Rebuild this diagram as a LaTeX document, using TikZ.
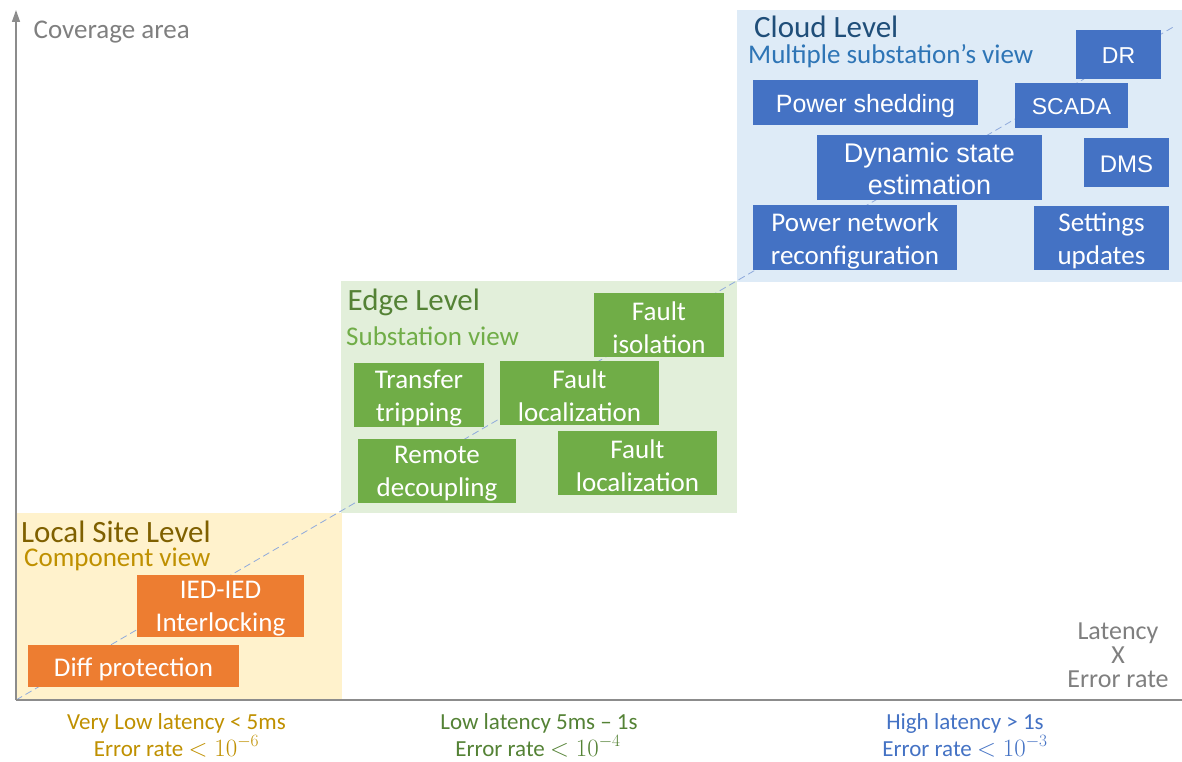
\documentclass[tikz,border=0pt]{standalone}
\usepackage{fontspec}
\setmainfont{Carlito}
\newfontfamily\arialf{Liberation Sans}
\usetikzlibrary{arrows.meta}
\definecolor{orangebox}{HTML}{ED7D31}
\definecolor{greenbox}{HTML}{70AD47}
\definecolor{bluebox}{HTML}{4472C4}
\definecolor{localbg}{HTML}{FFF2CC}
\definecolor{edgebg}{HTML}{E2EFDA}
\definecolor{cloudbg}{HTML}{DEEBF7}
\definecolor{localhead}{HTML}{7F6000}
\definecolor{localsub}{HTML}{BF9000}
\definecolor{edgehead}{HTML}{548235}
\definecolor{edgesub}{HTML}{70AD47}
\definecolor{cloudhead}{HTML}{1F4E79}
\definecolor{cloudsub}{HTML}{2E75B6}
\definecolor{axisgray}{HTML}{8C8C8C}
\definecolor{textgray}{HTML}{7F7F7F}
\definecolor{dashblue}{HTML}{8FAADC}
\newcommand{\fsz}[2]{\fontsize{#1pt}{#2pt}\selectfont}
\tikzset{
  region/.style={inner sep=0pt, outer sep=0pt, anchor=north west},
  taskbox/.style={inner sep=0pt, outer sep=0pt},
  obox/.style={taskbox, fill=orangebox},
  gbox/.style={taskbox, fill=greenbox},
  bbox/.style={taskbox, fill=bluebox},
  tasktext/.style={inner sep=0pt, text=white, align=center, font=\fsz{27}{33}},
  arialtext/.style={tasktext, font=\arialf\fsz{#1}{32}},
  head/.style={inner sep=0pt, anchor=base west, font=\fsz{31}{36}},
  sub/.style={inner sep=0pt, anchor=base west, font=\fsz{27}{32}},
  axisline/.style={draw=axisgray, line width=1.5pt},
  dashline/.style={draw=dashblue, line width=0.8pt, dash pattern=on 7pt off 4pt},
  botlabel/.style={inner sep=0pt, anchor=base, font=\fsz{23}{27}},
}
\begin{document}
\begin{tikzpicture}[x=1pt,y=-1pt]
\useasboundingbox (0,0) rectangle (1182,762);
% regions
\node[region, fill=localbg, minimum width=326pt, minimum height=187pt] (local) at (16,513) {};
\node[region, fill=edgebg, minimum width=396pt, minimum height=232pt] (edge) at (341,281) {};
\node[region, fill=cloudbg, minimum width=445pt, minimum height=272pt] (cloud) at (737,10) {};
% diagonal
\coordinate (O) at (16,700);
\coordinate (dtop) at (1175,26);
\draw[dashline] (O) -- (dtop);
% headings
\node[head, text=localhead] (lh) at (21,542.5) {Local Site Level};
\node[sub, text=localsub] (ls) at (24,566) {Component view};
\node[head, text=edgehead] (eh) at (347.5,310) {Edge Level};
\node[sub, text=edgesub] (es) at (346,345) {Substation view};
\node[head, text=cloudhead] (ch) at (754,38) {Cloud Level};
\node[sub, text=cloudsub] (cs) at (748,64) {Multiple substation's view};
% local boxes
\node[obox, minimum width=167pt, minimum height=62pt] (ied) at (220.5,606) {};
\node[tasktext] (iedt) at ([yshift=-3pt]ied.center) {IED-IED\\Interlocking};
\node[obox, minimum width=211pt, minimum height=42pt] (diff) at (133.5,666) {};
\node[tasktext] (difft) at ([yshift=-3pt]diff.center) {Diff protection};
% edge boxes
\node[gbox, minimum width=130pt, minimum height=64pt] (fiso) at (659,325) {};
\node[tasktext] (fisot) at ([yshift=-3pt]fiso.center) {Fault\\isolation};
\node[gbox, minimum width=130pt, minimum height=64pt] (ttrip) at (419,395) {};
\node[tasktext] (ttript) at ([yshift=-3pt]ttrip.center) {Transfer\\tripping};
\node[gbox, minimum width=159pt, minimum height=64pt] (floc1) at (579.5,393) {};
\node[tasktext] (floc1t) at ([yshift=-3pt]floc1.center) {Fault\\localization};
\node[gbox, minimum width=158pt, minimum height=64pt] (rdec) at (437,471) {};
\node[tasktext] (rdect) at ([yshift=-3pt]rdec.center) {Remote\\decoupling};
\node[gbox, minimum width=159pt, minimum height=64pt] (floc2) at (637.5,463) {};
\node[tasktext] (floc2t) at ([yshift=-3pt]floc2.center) {Fault\\localization};
% cloud boxes
\node[bbox, minimum width=85pt, minimum height=49pt] (dr) at (1118.5,54.5) {};
\node[arialtext=23] (drt) at ([yshift=-1.5pt]dr.center) {DR};
\node[bbox, minimum width=225pt, minimum height=45pt] (pshed) at (865.5,102.5) {};
\node[arialtext=25] (pshedt) at ([yshift=-3.5pt]pshed.center) {Power shedding};
\node[bbox, minimum width=113pt, minimum height=45pt] (scada) at (1071.5,105.5) {};
\node[arialtext=23] (scadat) at ([yshift=-1.5pt]scada.center) {SCADA};
\node[bbox, minimum width=225pt, minimum height=65pt] (dse) at (929.5,167.5) {};
\node[arialtext=27] (dset) at ([yshift=-1.5pt]dse.center) {Dynamic state\\estimation};
\node[bbox, minimum width=85pt, minimum height=49pt] (dms) at (1126.5,162.5) {};
\node[arialtext=24] (dmst) at ([yshift=-2pt]dms.center) {DMS};
\node[bbox, minimum width=204pt, minimum height=65pt] (pnr) at (855,237.5) {};
\node[tasktext] (pnrt) at ([yshift=-3pt]pnr.center) {Power network\\reconfiguration};
\node[bbox, minimum width=135pt, minimum height=64pt] (setu) at (1101.5,238) {};
\node[tasktext] (setut) at ([yshift=-3pt]setu.center) {Settings\\updates};
% axes
\coordinate (ytop) at (16,10);
\coordinate (xend) at (1182,700);
\draw[axisline, -{Triangle[length=12pt,width=8pt]}] (O) -- (ytop);
\draw[axisline] (O) -- (xend);
\node[inner sep=0pt, anchor=base west, text=textgray, font=\fsz{27}{32}] (cov) at (33.5,39) {Coverage area};
\node[inner sep=0pt, anchor=north, text=textgray, font=\fsz{26}{24}, align=center] (lat) at (1118,623) {Latency\\X\\Error rate};
% bottom labels
\node[botlabel, text=localsub] (b1a) at (176.5,729) {Very Low latency < 5ms};
\node[botlabel, text=localsub] (b1b) at (176.5,756) {Error rate $<10^{-6}$};
\node[botlabel, text=edgehead] (b2a) at (539,729) {Low latency 5ms – 1s};
\node[botlabel, text=edgehead] (b2b) at (538,756) {Error rate $<10^{-4}$};
\node[botlabel, text=bluebox] (b3a) at (965,729) {High latency > 1s};
\node[botlabel, text=bluebox] (b3b) at (965,756) {Error rate $<10^{-3}$};
\end{tikzpicture}
\end{document}
